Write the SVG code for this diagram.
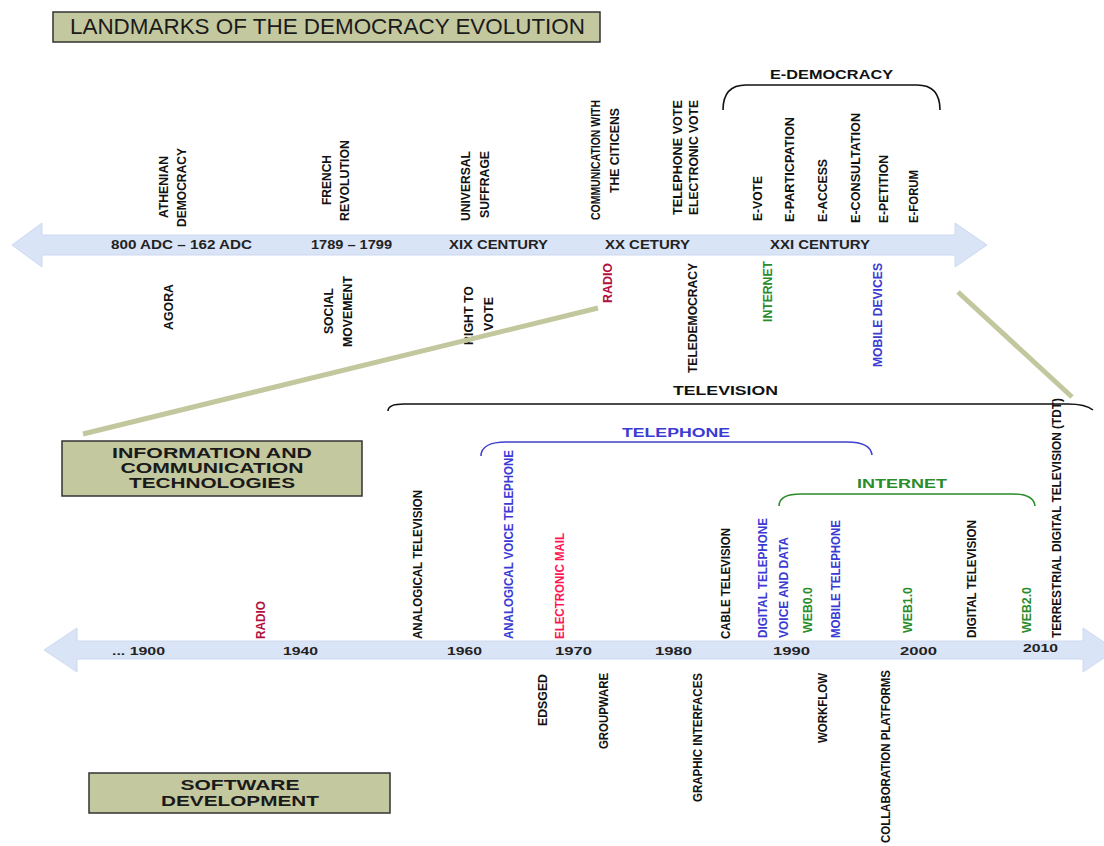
<svg xmlns="http://www.w3.org/2000/svg" width="1104" height="846" viewBox="0 0 1104 846">
<style>
text{font-family:"Liberation Sans",Arial,sans-serif}
.v{font-weight:bold;font-size:13px}
.blk{fill:#111}
.blu{fill:#3a3ad4}
.grn{fill:#2a8c2a}
.crm{fill:#b3103f}
.pnk{fill:#ff1654}
.band{fill:#dae4f7;stroke:#cdd9f0;stroke-width:1}
.box{fill:#c4c89f;stroke:#333;stroke-width:1.5}
.olive{stroke:#c3c79e;stroke-width:5;fill:none}
.yr{font-weight:bold;font-size:12px;fill:#222}
.yr2{font-weight:bold;font-size:11px;fill:#222}
.bt{font-weight:bold;font-size:14px;fill:#1a1a1a}
.br{fill:none;stroke-width:1.6}
</style>
<rect width="1104" height="846" fill="#fff"/>

<g id="title">
<rect class="box" x="53" y="12" width="547" height="30"/>
<text x="70" y="34" font-size="22" fill="#1a1a1a" textLength="515" lengthAdjust="spacingAndGlyphs">LANDMARKS OF THE DEMOCRACY EVOLUTION</text>
</g>

<g id="democracy-axis">
<polygon class="band" points="12,245 42,223 42,235 955,235 955,223 987,245 955,267 955,255 42,255 42,267"/>
<text class="yr" x="111" y="249" textLength="141" lengthAdjust="spacingAndGlyphs">800 ADC – 162 ADC</text>
<text class="yr" x="311" y="249" textLength="81" lengthAdjust="spacingAndGlyphs">1789 – 1799</text>
<text class="yr" x="449" y="249" textLength="99" lengthAdjust="spacingAndGlyphs">XIX CENTURY</text>
<text class="yr" x="605" y="249" textLength="85" lengthAdjust="spacingAndGlyphs">XX CETURY</text>
<text class="yr" x="770" y="249" textLength="100" lengthAdjust="spacingAndGlyphs">XXI CENTURY</text>
</g>

<g id="democracy-landmarks">
<text class="v blk" transform="translate(167.6,218) rotate(-90)" textLength="62" lengthAdjust="spacingAndGlyphs">ATHENIAN</text>
<text class="v blk" transform="translate(185.6,227) rotate(-90)" textLength="79" lengthAdjust="spacingAndGlyphs">DEMOCRACY</text>
<text class="v blk" transform="translate(330.6,205) rotate(-90)" textLength="50" lengthAdjust="spacingAndGlyphs">FRENCH</text>
<text class="v blk" transform="translate(348.6,221) rotate(-90)" textLength="81" lengthAdjust="spacingAndGlyphs">REVOLUTION</text>
<text class="v blk" transform="translate(469.6,221) rotate(-90)" textLength="70" lengthAdjust="spacingAndGlyphs">UNIVERSAL</text>
<text class="v blk" transform="translate(488.6,218) rotate(-90)" textLength="67" lengthAdjust="spacingAndGlyphs">SUFFRAGE</text>
<text class="v blk" transform="translate(599.6,220) rotate(-90)" textLength="120" lengthAdjust="spacingAndGlyphs">COMMUNICATION WITH</text>
<text class="v blk" transform="translate(618.6,193) rotate(-90)" textLength="85" lengthAdjust="spacingAndGlyphs">THE CITICENS</text>
<text class="v blk" transform="translate(681.6,215) rotate(-90)" textLength="115" lengthAdjust="spacingAndGlyphs">TELEPHONE VOTE</text>
<text class="v blk" transform="translate(697.6,215) rotate(-90)" textLength="115" lengthAdjust="spacingAndGlyphs">ELECTRONIC VOTE</text>
</g>

<g id="e-democracy">
<path class="br" stroke="#111" d="M723,110 C723,94 730,85 746,85 L917,85 C933,85 940,94 940,110"/>
<text x="770" y="79" font-weight="bold" font-size="12" fill="#111" textLength="123" lengthAdjust="spacingAndGlyphs">E-DEMOCRACY</text>
<text class="v blk" transform="translate(761.6,221) rotate(-90)" textLength="45" lengthAdjust="spacingAndGlyphs">E-VOTE</text>
<text class="v blk" transform="translate(793.6,222) rotate(-90)" textLength="105" lengthAdjust="spacingAndGlyphs">E-PARTICPATION</text>
<text class="v blk" transform="translate(826.6,222) rotate(-90)" textLength="63" lengthAdjust="spacingAndGlyphs">E-ACCESS</text>
<text class="v blk" transform="translate(859.6,223) rotate(-90)" textLength="110" lengthAdjust="spacingAndGlyphs">E-CONSULTATION</text>
<text class="v blk" transform="translate(887.6,223) rotate(-90)" textLength="68" lengthAdjust="spacingAndGlyphs">E-PETITION</text>
<text class="v blk" transform="translate(917.6,223) rotate(-90)" textLength="53" lengthAdjust="spacingAndGlyphs">E-FORUM</text>
</g>

<g id="democracy-means">
<text class="v blk" transform="translate(172.6,330) rotate(-90)" textLength="46" lengthAdjust="spacingAndGlyphs">AGORA</text>
<text class="v blk" transform="translate(332.6,334) rotate(-90)" textLength="46" lengthAdjust="spacingAndGlyphs">SOCIAL</text>
<text class="v blk" transform="translate(351.6,347) rotate(-90)" textLength="71" lengthAdjust="spacingAndGlyphs">MOVEMENT</text>
<text class="v blk" transform="translate(472.6,345) rotate(-90)" textLength="59" lengthAdjust="spacingAndGlyphs">RIGHT TO</text>
<text class="v blk" transform="translate(492.6,331) rotate(-90)" textLength="34" lengthAdjust="spacingAndGlyphs">VOTE</text>
<text class="v crm" transform="translate(611.6,303) rotate(-90)" textLength="40" lengthAdjust="spacingAndGlyphs">RADIO</text>
<text class="v blk" transform="translate(696.6,373) rotate(-90)" textLength="110" lengthAdjust="spacingAndGlyphs">TELEDEMOCRACY</text>
<text class="v grn" transform="translate(771.6,322) rotate(-90)" textLength="61" lengthAdjust="spacingAndGlyphs">INTERNET</text>
<text class="v blu" transform="translate(881.6,367) rotate(-90)" textLength="104" lengthAdjust="spacingAndGlyphs">MOBILE DEVICES</text>
</g>

<g id="connectors">
<line class="olive" x1="598" y1="308" x2="83" y2="434"/>
<line class="olive" x1="958" y1="292" x2="1072" y2="397"/>
</g>

<g id="ict-box">
<rect class="box" x="62" y="441" width="300" height="55"/>
<text class="bt" x="212" y="458" text-anchor="middle" textLength="200" lengthAdjust="spacingAndGlyphs">INFORMATION AND</text>
<text class="bt" x="212" y="473" text-anchor="middle" textLength="183" lengthAdjust="spacingAndGlyphs">COMMUNICATION</text>
<text class="bt" x="212" y="488" text-anchor="middle" textLength="166" lengthAdjust="spacingAndGlyphs">TECHNOLOGIES</text>
</g>

<g id="television">
<path class="br" stroke="#111" d="M388,411 C388,406 394,404 404,404 L1068,404 C1080,404 1088,406 1093,410"/>
<text x="673" y="395" font-weight="bold" font-size="12" fill="#111" textLength="105" lengthAdjust="spacingAndGlyphs">TELEVISION</text>
</g>

<g id="telephone">
<path class="br" stroke="#4040d0" stroke-width="2" d="M481,456 C481,447 490,442 506,442 L847,442 C863,442 871,447 872,455"/>
<text x="622" y="437" font-weight="bold" font-size="12" fill="#3a3ad4" textLength="108" lengthAdjust="spacingAndGlyphs">TELEPHONE</text>
</g>

<g id="internet">
<path class="br" stroke="#2a8c2a" stroke-width="2" d="M779,506 C779,498 787,494 801,494 L1013,494 C1027,494 1034,498 1035,506"/>
<text x="857" y="488" font-weight="bold" font-size="12" fill="#2a8c2a" textLength="90" lengthAdjust="spacingAndGlyphs">INTERNET</text>
</g>

<g id="ict-axis">
<polygon class="band" points="44,650 77,628 77,641 1083,641 1083,628 1116,650 1083,672 1083,659 77,659 77,672"/>
<text class="yr2" x="112" y="655" textLength="53" lengthAdjust="spacingAndGlyphs">... 1900</text>
<text class="yr2" x="283" y="655" textLength="35" lengthAdjust="spacingAndGlyphs">1940</text>
<text class="yr2" x="447" y="655" textLength="35" lengthAdjust="spacingAndGlyphs">1960</text>
<text class="yr2" x="555" y="655" textLength="37" lengthAdjust="spacingAndGlyphs">1970</text>
<text class="yr2" x="655" y="655" textLength="37" lengthAdjust="spacingAndGlyphs">1980</text>
<text class="yr2" x="773" y="655" textLength="37" lengthAdjust="spacingAndGlyphs">1990</text>
<text class="yr2" x="900" y="655" textLength="37" lengthAdjust="spacingAndGlyphs">2000</text>
<text class="yr2" x="1023" y="652" textLength="35" lengthAdjust="spacingAndGlyphs">2010</text>
</g>

<g id="ict-milestones">
<text class="v crm" transform="translate(264.6,639) rotate(-90)" textLength="38" lengthAdjust="spacingAndGlyphs">RADIO</text>
<text class="v blk" transform="translate(421.6,639) rotate(-90)" textLength="149" lengthAdjust="spacingAndGlyphs">ANALOGICAL TELEVISION</text>
<text class="v blu" transform="translate(512.6,639) rotate(-90)" textLength="189" lengthAdjust="spacingAndGlyphs">ANALOGICAL VOICE TELEPHONE</text>
<text class="v pnk" transform="translate(563.6,639) rotate(-90)" textLength="106" lengthAdjust="spacingAndGlyphs">ELECTRONIC MAIL</text>
<text class="v blk" transform="translate(729.6,639) rotate(-90)" textLength="111" lengthAdjust="spacingAndGlyphs">CABLE TELEVISION</text>
<text class="v blu" transform="translate(766.6,638) rotate(-90)" textLength="120" lengthAdjust="spacingAndGlyphs">DIGITAL TELEPHONE</text>
<text class="v blu" transform="translate(787.6,638) rotate(-90)" textLength="101" lengthAdjust="spacingAndGlyphs">VOICE AND DATA</text>
<text class="v grn" transform="translate(811.6,633) rotate(-90)" textLength="46" lengthAdjust="spacingAndGlyphs">WEB0.0</text>
<text class="v blu" transform="translate(839.6,638) rotate(-90)" textLength="118" lengthAdjust="spacingAndGlyphs">MOBILE TELEPHONE</text>
<text class="v grn" transform="translate(911.6,633) rotate(-90)" textLength="46" lengthAdjust="spacingAndGlyphs">WEB1.0</text>
<text class="v blk" transform="translate(975.6,638) rotate(-90)" textLength="118" lengthAdjust="spacingAndGlyphs">DIGITAL TELEVISION</text>
<text class="v grn" transform="translate(1030.6,633) rotate(-90)" textLength="46" lengthAdjust="spacingAndGlyphs">WEB2.0</text>
<text class="v blk" transform="translate(1060.6,638) rotate(-90)" textLength="240" lengthAdjust="spacingAndGlyphs">TERRESTRIAL DIGITAL TELEVISION (TDT)</text>
</g>

<g id="software-milestones">
<text class="v blk" text-anchor="end" transform="translate(546.6,674) rotate(-90)" textLength="52" lengthAdjust="spacingAndGlyphs">EDSGED</text>
<text class="v blk" text-anchor="end" transform="translate(607.6,673) rotate(-90)" textLength="76" lengthAdjust="spacingAndGlyphs">GROUPWARE</text>
<text class="v blk" text-anchor="end" transform="translate(701.6,673) rotate(-90)" textLength="129" lengthAdjust="spacingAndGlyphs">GRAPHIC INTERFACES</text>
<text class="v blk" text-anchor="end" transform="translate(826.6,673) rotate(-90)" textLength="70" lengthAdjust="spacingAndGlyphs">WORKFLOW</text>
<text class="v blk" text-anchor="end" transform="translate(889.6,670) rotate(-90)" textLength="173" lengthAdjust="spacingAndGlyphs">COLLABORATION PLATFORMS</text>
</g>

<g id="software-box">
<rect class="box" x="89" y="773" width="301" height="40"/>
<text class="bt" x="240" y="790" text-anchor="middle" textLength="119" lengthAdjust="spacingAndGlyphs">SOFTWARE</text>
<text class="bt" x="240" y="806" text-anchor="middle" textLength="158" lengthAdjust="spacingAndGlyphs">DEVELOPMENT</text>
</g>
</svg>
